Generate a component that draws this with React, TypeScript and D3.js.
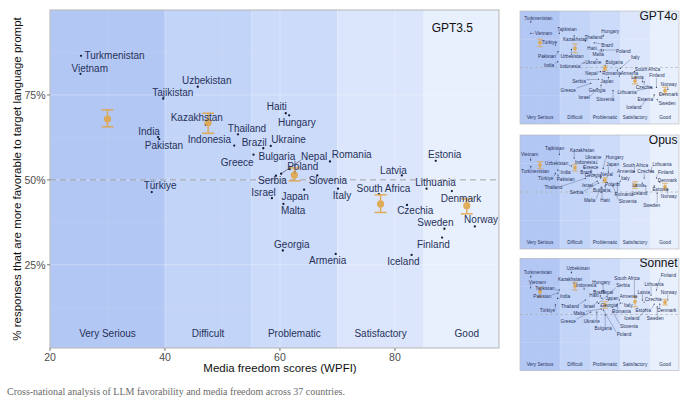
import React from 'react';
import * as d3 from 'd3';

// Countries, in one fixed order used by every array below
const countries = [
  'Turkmenistan', 'Vietnam', 'Uzbekistan', 'Tajikistan', 'Kazakhstan', 'India', 'Pakistan',
  'Türkiye', 'Indonesia', 'Thailand', 'Greece', 'Brazil', 'Ukraine', 'Haiti', 'Hungary',
  'Bulgaria', 'Nepal', 'Poland', 'Serbia', 'Israel', 'Malta', 'Georgia', 'Japan', 'Slovenia',
  'Romania', 'Armenia', 'Italy', 'South Africa', 'Latvia', 'Czechia', 'Iceland', 'Lithuania',
  'Estonia', 'Finland', 'Sweden', 'Denmark', 'Norway',
];

// Media freedom score (WPFI)
const wpfi = [
  25.4, 25.3, 45.7, 39.7, 47.1, 38.8, 39.0, 37.7, 52.05, 52.7, 55.4, 57.1, 58.4, 61.0, 61.6,
  62.6, 60.2, 61.7, 59.3, 58.6, 60.6, 60.5, 64.2, 66.5, 68.7, 69.7, 70.1, 77.2, 81.2, 82.1,
  82.9, 85.5, 87.1, 88.2, 88.6, 89.9, 93.9,
];

// % responses more favorable to target language prompt, per model
const gpt35 = [
  86.5, 81.2, 77.4, 73.9, 66.2, 62.6, 62.0, 46.4, 60.1, 63.4, 57.4, 59.3, 60.0, 69.6, 69.0,
  52.1, 51.8, 53.2, 51.2, 44.6, 42.9, 29.2, 47.1, 51.3, 55.4, 28.2, 47.4, 45.8, 51.3, 42.6,
  27.9, 47.4, 55.6, 33.0, 35.6, 46.7, 36.3,
];
const gpt4o = [
  90.3, 80.3, 66.1, 80.3, 78.1, 55.1, 64.0, 69.9, 54.2, 73.5, 36.0, 71.9, 57.3, 64.6, 77.9,
  51.3, 46.3, 65.5, 39.6, 31.6, 66.1, 34.5, 41.3, 29.5, 47.8, 42.5, 49.3, 46.3, 37.4, 37.4,
  21.9, 32.5, 25.7, 32.5, 21.9, 26.5, 30.7,
];
const opus = [
  72.2, 78.1, 72.8, 83.1, 79.8, 69.3, 64.9, 66.4, 71.1, 62.0, 67.5, 64.9, 75.2, 53.5, 70.8,
  55.3, 62.3, 60.5, 57.9, 59.6, 54.4, 63.2, 67.5, 55.3, 57.9, 64.0, 59.6, 67.8, 57.9, 62.3,
  55.3, 67.8, 55.3, 62.3, 49.1, 58.8, 52.6,
];
const sonnet = [
  83.4, 73.8, 87.2, 71.8, 77.8, 64.4, 69.1, 58.5, 72.7, 62.9, 52.2, 70.9, 52.2, 64.7, 71.2,
  49.6, 66.5, 54.0, 60.0, 61.1, 54.9, 57.6, 62.9, 52.2, 59.3, 62.9, 60.2, 65.6, 62.9, 61.1,
  54.9, 67.3, 59.3, 71.8, 56.7, 59.3, 62.9,
];

// Press freedom categories
const bandNames = ['Very Serious', 'Difficult', 'Problematic', 'Satisfactory', 'Good'];
const bandEdges = [20, 40, 55, 70, 85, 100];
const bandMid = [30, 47.5, 62.5, 77.5, 92.5];

// Category means with intervals
const gpt35Mean = [67.9, 66.9, 51.4, 42.9, 42.4];
const gpt35Lo = [65.6, 63.7, 49.7, 40.4, 40.0];
const gpt35Hi = [70.6, 69.6, 53.5, 45.6, 44.4];
const gpt4oMean = [71.9, 67.0, 49.3, 38.1, 29.5];
const gpt4oLo = [68.4, 63.1, 47.2, 35.4, 26.5];
const gpt4oHi = [75.0, 70.8, 51.3, 41.3, 32.5];
const opusMean = [73.7, 71.3, 60.5, 56.1, 54.6];
const opusLo = [70.8, 68.4, 58.5, 53.2, 51.8];
const opusHi = [76.6, 74.3, 62.5, 59.0, 57.6];
const sonnetMean = [70.3, 75.4, 58.5, 61.4, 60.9];
const sonnetLo = [65.8, 71.8, 55.5, 56.9, 58.5];
const sonnetHi = [73.8, 78.6, 61.4, 65.8, 63.5];

const xTicks = [20, 40, 60, 80];
const yTicks = [25, 50, 75];

// label placement (pixel nudges from the point, label centre), same country order
const mainNudge: [number, number][] = [
  [33.5, 0], [9.3, -5.7], [9, -6], [9.5, -5.7], [-9, -7], [-9, -5.6], [4.7, 6.4], [8.3, -6.3],
  [-24.8, -5.7], [9, -6.2], [-16.3, 7.3], [-9.1, -5.6], [17.8, -6], [-9, -6.6], [7.7, 7.2],
  [-18, -16.3], [33, -17.3], [13, -2], [-3.5, 5], [-8.4, -5.3], [9.7, 6.7], [9, -6.4], [-9, 7],
  [10.5, 5.2], [21.7, -6.7], [-8, 7], [4, 6.6], [4.6, -5.3], [-8.4, -5.4], [8.2, 6], [-8.2, 7],
  [9, -6], [9, -6], [-8.7, 6.6], [-9, -6], [9.2, 7], [9.2, -6.4],
];
const gpt4oNudge: [number, number][] = [
  [7.5, -3.7], [13, 0], [0.6, 7.4], [7.6, -4], [1, 3.6], [-8.6, 4], [-11, 5], [-6, -3],
  [-14, 3.3], [8, -3.5], [-22.5, 6.7], [13, 3], [-3.5, 3], [-10, -3], [7, -4],
  [9, -3.7], [-9, 2.3], [20, 2], [-19.6, 2.4], [-13, 9.7], [-3, 5], [-4, 5], [-1.4, 4.4],
  [-7.7, 9.3], [-5.7, 4], [10, -2], [15, -10.5], [13, -2], [-5, -4.7], [0, 5.6], [-12, 8.4],
  [-24, 5.4], [-9, 5], [0.6, -11.3], [10, 4.7], [11, 0], [1, -5.3],
];
const opusNudge: [number, number][] = [
  [2, 5], [-1, -5], [-14.7, -2.7], [-4.7, -6], [8, -7.7], [8, 3], [7.7, 4.3], [-9.7, 5],
  [1, -5], [-32, 9.4], [0, -5], [-8, -3], [-3.5, -5.6], [3, 12], [11.5, -11],
  [-3.5, 5], [6.3, -3.7], [9, 4], [-22, 10], [-9.5, 4], [-11.5, 14], [-8, -1], [4.3, -7.7],
  [14.7, 15.7], [6.6, 11.3], [6.3, -4.3], [5, -3], [1, -6.7], [-4, 3], [1.5, -6.3], [-6, 8],
  [11, -7.4], [6, 4], [9.3, -5.3], [-5.5, 12], [7.5, -1], [1, 7],
];
const sonnetNudge: [number, number][] = [
  [7, -4.3], [6.7, -5.7], [6.6, -4.4], [-14.4, -1.7], [-4, -4], [7.4, -1.6], [-15.7, 3.7],
  [-8, 5.7], [2, -3.5], [-15.4, 6], [-22.5, 9], [5, 1.5], [-5, 9.7], [-8, -2], [-2, -8.4],
  [-2, 14], [6.6, -3], [20.6, 24], [24.4, -17.3], [-8, 4], [-22, 4.3], [8, 0], [3.6, -1.7],
  [16, 14], [4, 7.5], [9, -3.3], [8, 2], [-7.4, -18.7], [1.3, -7.7], [9, -2.7], [-14, 9.3],
  [3, -10.7], [-11, 6.7], [12, -14], [-2, 11.3], [7, 6.7], [1, -7.7],
];

const bandFill = ['#b3c7f4', '#c2d4f8', '#ccdbfa', '#dbe6fc', '#e9f0fd'];
const navy = '#27325a';
const gold = '#e0a64a';
const sans = '"Liberation Sans", Arial, Helvetica, sans-serif';

const ctx = typeof document !== 'undefined' ? document.createElement('canvas').getContext('2d') : null;
function textWidth(t: string, size: number) {
  if (!ctx) return t.length * size * 0.5;
  ctx.font = `${size}px "Liberation Sans"`;
  return ctx.measureText(t).width;
}

interface PanelProps {
  title: string;
  share: number[];
  mean: number[];
  lo: number[];
  hi: number[];
  nudge: [number, number][];
  left: number;
  right: number;
  top: number;
  bottom: number;
  xMax: number;
  yMin: number;
  big: boolean;
}

function ScatterPanel(p: PanelProps) {
  const x = d3.scaleLinear().domain([20, p.xMax]).range([p.left, p.right]);
  const y = d3.scaleLinear().domain([p.yMin, 100]).range([p.bottom, p.top]);
  const fs = p.big ? 10 : 4.7;
  const dotR = p.big ? 1.15 : 0.6;
  const gap = p.big ? 4 : 1.6;

  const minorX = [30, 50, 70, 90];
  const minorY = [12.5, 37.5, 62.5, 87.5];

  const labels = countries.map((name, i) => {
    const px = x(wpfi[i]);
    const py = y(p.share[i]);
    const w = textWidth(name, fs);
    let cx = px + p.nudge[i][0];
    const cy = py + p.nudge[i][1];
    cx = Math.max(p.left + w / 2 + 1, Math.min(p.right - w / 2 - 1, cx));
    const hx = w / 2 + 0.5;
    const hy = fs * 0.4;
    const nx = Math.max(cx - hx, Math.min(cx + hx, px));
    const ny = Math.max(cy - hy, Math.min(cy + hy, py));
    const dist = Math.hypot(nx - px, ny - py);
    return { name, px, py, cx, cy, nx, ny, seg: dist > gap };
  });

  return (
    <g>
      {bandNames.map((b, i) => (
        <rect
          key={b}
          x={x(bandEdges[i])}
          y={p.top}
          width={Math.min(x(bandEdges[i + 1]), p.right) - x(bandEdges[i])}
          height={p.bottom - p.top}
          fill={bandFill[i]}
        />
      ))}
      {minorX.map(v => (
        <line key={'mx' + v} x1={x(v)} x2={x(v)} y1={p.top} y2={p.bottom} stroke="#fff" strokeOpacity={0.15} strokeWidth={p.big ? 0.6 : 0.3} />
      ))}
      {xTicks.map(v => (
        <line key={'gx' + v} x1={x(v)} x2={x(v)} y1={p.top} y2={p.bottom} stroke="#fff" strokeOpacity={0.3} strokeWidth={p.big ? 1 : 0.5} />
      ))}
      {minorY.map(v => (
        <line key={'my' + v} x1={p.left} x2={p.right} y1={y(v)} y2={y(v)} stroke="#fff" strokeOpacity={0.15} strokeWidth={p.big ? 0.6 : 0.3} />
      ))}
      {yTicks.map(v => (
        <line key={'gy' + v} x1={p.left} x2={p.right} y1={y(v)} y2={y(v)} stroke="#fff" strokeOpacity={0.3} strokeWidth={p.big ? 1 : 0.5} />
      ))}
      <line
        x1={p.left} x2={p.right} y1={y(50)} y2={y(50)}
        stroke="#9a9a9a" strokeWidth={p.big ? 0.9 : 0.5}
        strokeDasharray={p.big ? '6,4' : '3,2'}
      />
      {bandNames.map((b, i) => (
        <text
          key={'bl' + b}
          x={x(bandMid[i])}
          y={p.bottom - (p.big ? 15 : 6.7)}
          textAnchor="middle"
          dominantBaseline="central"
          fontSize={fs}
          fill={navy}
          fontFamily={sans}
        >
          {b}
        </text>
      ))}
      {labels.filter(l => l.seg).map(l => (
        <line key={'sg' + l.name} x1={l.px} y1={l.py} x2={l.nx} y2={l.ny} stroke={navy} strokeWidth={p.big ? 0.6 : 0.3} />
      ))}
      {labels.map(l => (
        <circle key={'pt' + l.name} cx={l.px} cy={l.py} r={dotR} fill="#141a33" />
      ))}
      {bandMid.map((m, i) => {
        const cap = p.big ? 6 : 3;
        return (
          <g key={'eb' + i} stroke={gold} strokeWidth={p.big ? 1.5 : 0.8} opacity={0.9}>
            <line x1={x(m)} x2={x(m)} y1={y(p.lo[i])} y2={y(p.hi[i])} />
            <line x1={x(m) - cap} x2={x(m) + cap} y1={y(p.lo[i])} y2={y(p.lo[i])} />
            <line x1={x(m) - cap} x2={x(m) + cap} y1={y(p.hi[i])} y2={y(p.hi[i])} />
            <circle cx={x(m)} cy={y(p.mean[i])} r={p.big ? 3.6 : 1.9} fill={gold} stroke="none" />
          </g>
        );
      })}
      {labels.map(l => (
        <text
          key={'lb' + l.name}
          x={l.cx}
          y={l.cy}
          textAnchor="middle"
          dominantBaseline="central"
          fontSize={fs}
          fill={navy}
          fontFamily={sans}
        >
          {l.name}
        </text>
      ))}
      <text
        x={p.big ? p.right - 26 : p.right - 1.5}
        y={p.big ? p.top + 21.5 : p.top + 9}
        textAnchor="end"
        fontSize={12}
        fill="#111"
        fontFamily={sans}
      >
        {p.title}
      </text>
      <rect
        x={p.left} y={p.top} width={p.right - p.left} height={p.bottom - p.top}
        fill="none" stroke="#b5b5b5" strokeWidth={p.big ? 1 : 0.6}
      />
      {p.big && (
        <g fontFamily={sans}>
          {xTicks.map(v => (
            <g key={'xt' + v}>
              <line x1={x(v)} x2={x(v)} y1={p.bottom} y2={p.bottom + 3} stroke="#555" strokeWidth={0.8} />
              <text x={x(v)} y={p.bottom + 8.5} textAnchor="middle" dominantBaseline="central" fontSize={10.5} fill="#4d4d4d">
                {v}
              </text>
            </g>
          ))}
          {yTicks.map(v => (
            <g key={'yt' + v}>
              <line x1={p.left - 3} x2={p.left} y1={y(v)} y2={y(v)} stroke="#555" strokeWidth={0.8} />
              <text x={p.left - 4.5} y={y(v)} textAnchor="end" dominantBaseline="central" fontSize={10.5} fill="#4d4d4d">
                {v}%
              </text>
            </g>
          ))}
          <text x={280} y={368} textAnchor="middle" dominantBaseline="central" fontSize={11.5} fill="#111">
            Media freedom scores (WPFI)
          </text>
          <text
            transform={`translate(17,${(p.top + p.bottom) / 2}) rotate(-90)`}
            textAnchor="middle"
            dominantBaseline="central"
            fontSize={11.5}
            fill="#111"
          >
            % responses that are more favorable to target language prompt
          </text>
        </g>
      )}
    </g>
  );
}

export default function App() {
  return (
    <svg
      width={700}
      height={412}
      style={{ position: 'absolute', left: 0, top: 0, background: '#fff' }}
    >
      <ScatterPanel
        title="GPT3.5" share={gpt35} mean={gpt35Mean} lo={gpt35Lo} hi={gpt35Hi} nudge={mainNudge}
        left={50} right={499} top={10} bottom={348} xMax={98.1} yMin={0.5} big
      />
      <ScatterPanel
        title="GPT4o" share={gpt4o} mean={gpt4oMean} lo={gpt4oLo} hi={gpt4oHi} nudge={gpt4oNudge}
        left={520} right={679} top={11} bottom={124} xMax={99.5} yMin={0} big={false}
      />
      <ScatterPanel
        title="Opus" share={opus} mean={opusMean} lo={opusLo} hi={opusHi} nudge={opusNudge}
        left={520} right={679} top={135} bottom={249} xMax={99.5} yMin={0} big={false}
      />
      <ScatterPanel
        title="Sonnet" share={sonnet} mean={sonnetMean} lo={sonnetLo} hi={sonnetHi} nudge={sonnetNudge}
        left={520} right={679} top={258.3} bottom={370.7} xMax={99.5} yMin={0} big={false}
      />
      <text x={7} y={391} dominantBaseline="central" fontSize={10} fill="#6b6b6b" fontFamily='"Liberation Serif", "DejaVu Serif", serif'>
        Cross-national analysis of LLM favorability and media freedom across 37 countries.
      </text>
    </svg>
  );
}
